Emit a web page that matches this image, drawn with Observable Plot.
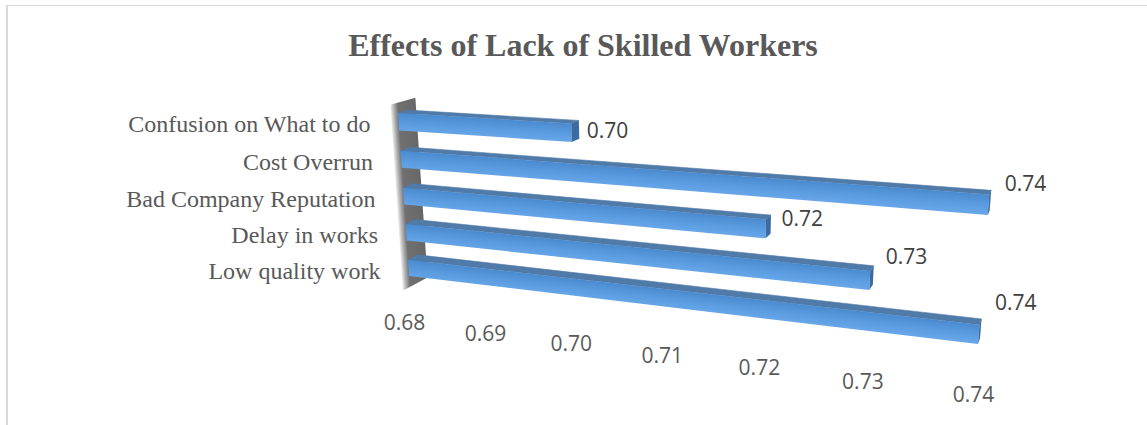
<!DOCTYPE html>
<html>
<head>
<meta charset="utf-8">
<title>Effects of Lack of Skilled Workers</title>
<script src="https://cdn.jsdelivr.net/npm/d3@7"></script>
<script src="https://cdn.jsdelivr.net/npm/@observablehq/plot@0.6"></script>
<style>
  html, body { margin: 0; background: #fff; }
  #chart { position: relative; width: 1147px; height: 425px; overflow: hidden; }
  #chart::before { content: ""; position: absolute; left: 6px; top: 5px; width: 1141px; height: 420px;
    border-top: 1.5px solid #d9d9d9; border-left: 2px solid #d9d9d9; box-sizing: border-box; }
  #chart svg { position: absolute; left: 0; top: 0; background: transparent; }
</style>
</head>
<body>
<div id="chart"></div>
<script>
// Chart content
const chartTitle = "Effects of Lack of Skilled Workers";
const categories = ["Confusion on What to do", "Cost Overrun", "Bad Company Reputation", "Delay in works", "Low quality work"];
const values = [0.70, 0.74, 0.72, 0.73, 0.74];
const axisTicks = [0.68, 0.69, 0.70, 0.71, 0.72, 0.73, 0.74];
const bars = categories.map((category, i) => ({category, value: values[i]}));

// Hand-placed vertical lift of each value label above its bar's end
const labelLift = [2, 20, 10, 23, 31];
// The axis labels sag slightly more than the floor edge towards the right
const tickLift = [0, -1, -1, -2, -2, -4, -4];

// Perspective floor: where the corners of the flat plot rectangle land on the page
const quad = [[398, 113], [992.7, 149], [978, 344], [409, 276]];
const vanish = [1130, -100];
const depthStep = 0.0137;

const [[x0, y0], [x1, y1], [x2, y2], [x3, y3]] = quad;
const dx1 = x1 - x2, dx2 = x3 - x2, dx3 = x0 - x1 + x2 - x3;
const dy1 = y1 - y2, dy2 = y3 - y2, dy3 = y0 - y1 + y2 - y3;
const den = dx1 * dy2 - dx2 * dy1;
const g = (dx3 * dy2 - dx2 * dy3) / den, h = (dx1 * dy3 - dx3 * dy1) / den;
const a = x1 - x0 + g * x1, b = x3 - x0 + h * x3;
const d = y1 - y0 + g * y1, e = y3 - y0 + h * y3;

// Unit-square position plus depth to page position
function project(u, v, depth = 0) {
  const w = g * u + h * v + 1;
  const px = (a * u + b * v + x0) / w, py = (d * u + e * v + y0) / w;
  const t = depthStep * depth;
  return [px + t * (vanish[0] - px), py + t * (vanish[1] - py)];
}

const svgNS = "http://www.w3.org/2000/svg";
const outline = (pts) => "M" + pts.map((p) => p.join(",")).join("L") + "Z";
let gradientId = 0;

function linearGradient(parent, from, to, stops) {
  const id = `shade-${gradientId++}`;
  const grad = document.createElementNS(svgNS, "linearGradient");
  grad.setAttribute("id", id);
  grad.setAttribute("gradientUnits", "userSpaceOnUse");
  grad.setAttribute("x1", from[0]); grad.setAttribute("y1", from[1]);
  grad.setAttribute("x2", to[0]); grad.setAttribute("y2", to[1]);
  for (const [offset, color] of stops) {
    const stop = document.createElementNS(svgNS, "stop");
    stop.setAttribute("offset", offset);
    stop.setAttribute("stop-color", color);
    grad.appendChild(stop);
  }
  parent.appendChild(grad);
  return `url(#${id})`;
}

// Gradient running square across the edge p→q, reaching as far as the point far
function gradientAcross(parent, p, q, far, stops) {
  const len = Math.hypot(q[0] - p[0], q[1] - p[1]);
  const nx = -(q[1] - p[1]) / len, ny = (q[0] - p[0]) / len;
  const span = (far[0] - p[0]) * nx + (far[1] - p[1]) * ny;
  return linearGradient(parent, p, [p[0] + nx * span, p[1] + ny * span], stops);
}

// Turns each bar rectangle into one face of a solid bar in perspective
function barFace(face) {
  return (index, scales, channels, dims, context, next) => {
    const group = next(index, scales, channels, dims, context);
    group.removeAttribute("transform");
    const W = dims.width - dims.marginLeft - dims.marginRight;
    const H = dims.height - dims.marginTop - dims.marginBottom;
    for (const rect of [...group.querySelectorAll("rect")]) {
      const u0 = (+rect.getAttribute("x") - dims.marginLeft) / W;
      const u1 = u0 + +rect.getAttribute("width") / W;
      const v0 = (+rect.getAttribute("y") - dims.marginTop) / H;
      const v1 = v0 + +rect.getAttribute("height") / H;
      const path = document.createElementNS(svgNS, "path");
      if (face === "top") {
        path.setAttribute("d", outline([project(u0, v0), project(u1, v0), project(u1, v0, 1), project(u0, v0, 1)]));
        path.setAttribute("fill", "#507aa8");
        path.setAttribute("stroke", "#507aa8");
        path.setAttribute("stroke-width", 0.6);
      } else if (face === "cap") {
        const pts = [project(u1, v0), project(u1, v0, 1), project(u1, v1, 1), project(u1, v1)];
        path.setAttribute("d", outline(pts));
        path.setAttribute("fill", "#3a6ca3");
        path.setAttribute("stroke", "none");
      } else {
        const a0 = project(u0, v0), a1 = project(u1, v0), b1 = project(u1, v1), b0 = project(u0, v1);
        const mid = project((u0 + u1) / 2, v0);
        const fill = gradientAcross(group, mid, [mid[0] + a1[0] - a0[0], mid[1] + a1[1] - a0[1]],
          project((u0 + u1) / 2, v1), [[0, "#4a8bd0"], [0.55, "#5a9bdf"], [1, "#65a5e8"]]);
        path.setAttribute("d", outline([a0, a1, b1, b0]));
        path.setAttribute("fill", fill);
        path.setAttribute("stroke", "none");
      }
      rect.replaceWith(path);
    }
    return group;
  };
}

// The grey back wall standing behind the start of the bars
function wall() {
  const group = document.createElementNS(svgNS, "g");
  const vTop = -0.06, vBottom = 1.07, back = 1.8, front = -0.7;
  const pts = [project(0, vTop, front), project(0, vTop, back), project(0, vBottom, back), project(0, vBottom, front)];
  // The left edge fades out, so the gradient starts there and runs into the wall
  const fill = gradientAcross(group, pts[3], pts[0], pts[1],
    [[0, "#f2f2f2"], [0.12, "#b8b8b8"], [0.3, "#707070"], [1, "#676767"]]);
  const path = document.createElementNS(svgNS, "path");
  path.setAttribute("d", outline(pts));
  path.setAttribute("fill", fill);
  group.appendChild(path);
  return group;
}

// Moves text anchors from the flat plot rectangle onto the perspective floor
function placeText({defaultU = null, defaultV = null, lift = null} = {}) {
  return (index, scales, channels, dims, context, next) => {
    const W = dims.width - dims.marginLeft - dims.marginRight;
    const H = dims.height - dims.marginTop - dims.marginBottom;
    const X = new Float64Array(channels.x ? channels.x.length : channels.y.length);
    const Y = new Float64Array(X.length);
    for (const i of index) {
      const u = channels.x ? (channels.x[i] - dims.marginLeft) / W : defaultU;
      const v = channels.y ? (channels.y[i] - dims.marginTop) / H : defaultV;
      const [px, py] = project(u, v);
      X[i] = px;
      Y[i] = py - (lift ? lift[i] : 0);
    }
    return next(index, scales, {...channels, x: X, y: Y}, dims, context);
  };
}

const serif = "'Liberation Serif', 'Times New Roman', serif";
const sans = "'Open Sans', 'Noto Sans', sans-serif";

const chart = Plot.plot({
  width: 1147,
  height: 425,
  marginLeft: 400,
  marginRight: 167,
  marginTop: 100,
  marginBottom: 150,
  x: {domain: [axisTicks[0], axisTicks[axisTicks.length - 1]]},
  y: {domain: categories, paddingInner: 0.54, paddingOuter: 0, round: false},
  marks: [
    Plot.frame({stroke: "none", render: wall}),
    Plot.barX(bars, {x1: () => axisTicks[0], x2: "value", y: "category", render: barFace("top")}),
    Plot.barX(bars, {x1: () => axisTicks[0], x2: "value", y: "category", render: barFace("front")}),
    Plot.barX(bars, {x1: () => axisTicks[0], x2: "value", y: "category", render: barFace("cap")}),
    Plot.axisY({
      tickSize: 0, tickPadding: 28, label: null, fontSize: 24, fontFamily: serif, fill: "#595959", dy: 2,
      render: placeText({defaultU: 0})
    }),
    Plot.axisX({
      ticks: axisTicks, tickFormat: ".2f", tickSize: 0, tickPadding: 0, label: null, anchor: "bottom",
      fontSize: 21, fontFamily: sans, fill: "#595959", dy: 38, dx: -5, lineAnchor: "middle",
      render: placeText({defaultV: 1, lift: tickLift})
    }),
    Plot.text(bars, {
      x: "value", y: "category", text: (row) => row.value.toFixed(2), textAnchor: "start",
      dx: 15, fontSize: 21, fontFamily: sans, fill: "#404040",
      render: placeText({lift: labelLift})
    }),
    Plot.text([chartTitle], {
      frameAnchor: "top", dx: -107.5, dy: -67, fontSize: 32, fontWeight: "bold", fontFamily: serif, fill: "#595959"
    })
  ]
});
document.getElementById("chart").appendChild(chart);
</script>
</body>
</html>
